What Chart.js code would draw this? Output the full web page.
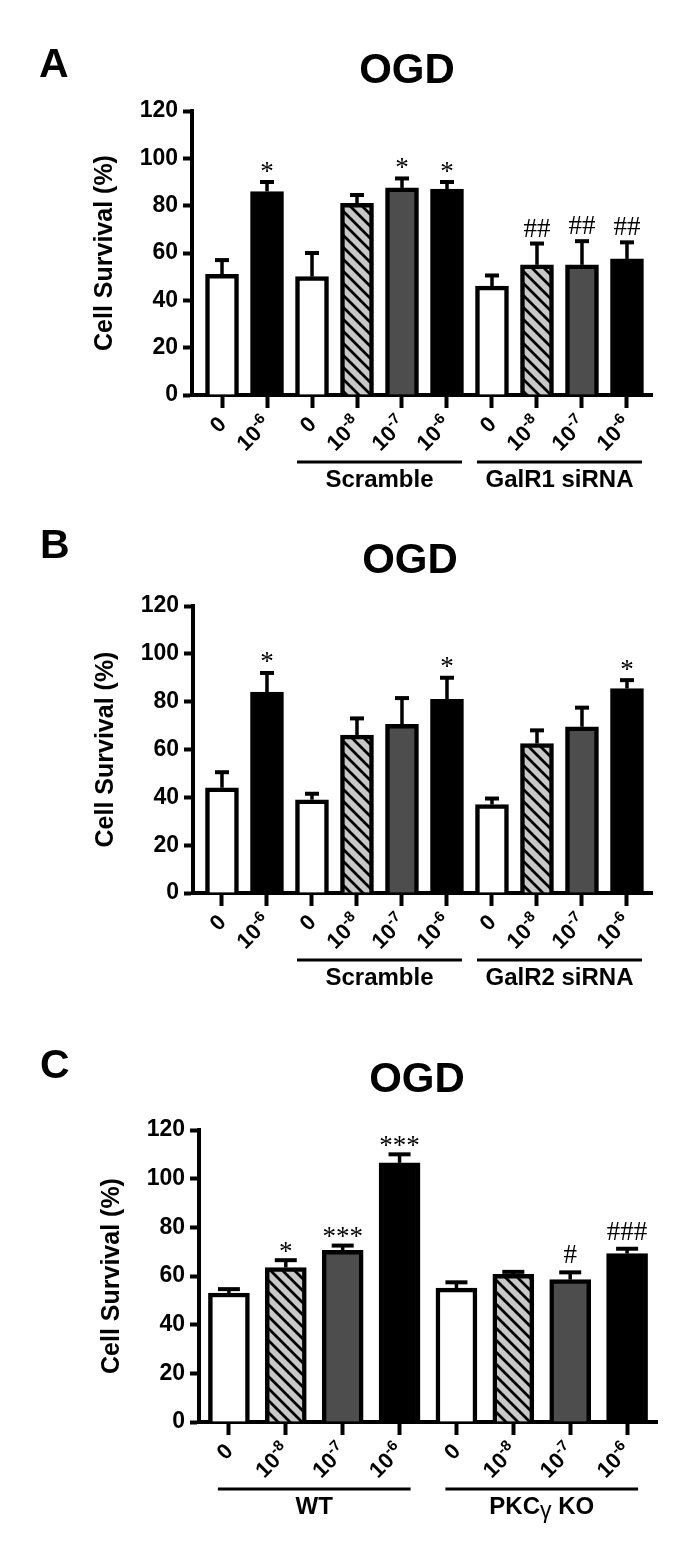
<!DOCTYPE html>
<html>
<head>
<meta charset="utf-8">
<script src="https://cdn.jsdelivr.net/npm/chart.js@4.4.1/dist/chart.umd.min.js"></script>
<style>
  html, body { margin: 0; padding: 0; background: #fff; }
  #wrap { position: relative; width: 681px; height: 1554px; }
  canvas { position: absolute; left: 0; }
</style>
</head>
<body>
<div id="wrap">
  <canvas id="panelA" width="681" height="518" style="top:0px"></canvas>
  <canvas id="panelB" width="681" height="518" style="top:518px"></canvas>
  <canvas id="panelC" width="681" height="518" style="top:1036px"></canvas>
</div>
<script>
// ---- data ----
const yTicks = [0, 20, 40, 60, 80, 100, 120];

// Panel A: GalR1 siRNA
const ticksA = ['0', '10^-6', '0', '10^-8', '10^-7', '10^-6', '0', '10^-8', '10^-7', '10^-6'];
const survivalA = [51, 86, 50, 81, 87.5, 87, 46, 55, 55, 57.5];
const semA = [6, 4, 10, 3.5, 4, 3, 4.5, 9, 10, 7];
const sigA = ['', '*', '', '', '*', '*', '', '##', '##', '##'];
const groupsA = [['Scramble', 2, 5], ['GalR1 siRNA', 6, 9]];

// Panel B: GalR2 siRNA
const ticksB = ['0', '10^-6', '0', '10^-8', '10^-7', '10^-6', '0', '10^-8', '10^-7', '10^-6'];
const survivalB = [44, 84, 39, 66, 70.5, 81, 37, 62.5, 69.5, 85.5];
const semB = [6.5, 8, 2.5, 7, 11, 9, 2.5, 5.5, 8, 3.5];
const sigB = ['', '*', '', '', '', '*', '', '', '', '*'];
const groupsB = [['Scramble', 2, 5], ['GalR2 siRNA', 6, 9]];

// Panel C: WT vs PKCgamma KO
const ticksC = ['0', '10^-8', '10^-7', '10^-6', '0', '10^-8', '10^-7', '10^-6'];
const survivalC = [53, 63.5, 70.5, 106.5, 55, 60.7, 58.5, 69.2];
const semC = [1.6, 3, 2, 3.5, 2.4, 1, 3, 2];
const sigC = ['', '*', '***', '***', '', '', '#', '###'];
const groupsC = [['WT', 0, 3], ['PKC\u03b3 KO', 4, 7]];

// bar fill kinds (style)
const fillsAB = ['white', 'black', 'white', 'hatch', 'dark', 'black', 'white', 'hatch', 'dark', 'black'];
const fillsC = ['white', 'hatch', 'dark', 'black', 'white', 'hatch', 'dark', 'black'];

const FONT = "'Liberation Sans', Arial, sans-serif";
const SERIF = "'Liberation Serif', 'Times New Roman', serif";

function makeHatch() {
  const t = document.createElement('canvas');
  t.width = t.height = 12;
  const g = t.getContext('2d');
  g.fillStyle = '#c8c8c8';
  g.fillRect(0, 0, 12, 12);
  g.strokeStyle = '#000';
  g.lineWidth = 2.8;
  g.beginPath();
  g.moveTo(-3, -3); g.lineTo(15, 15);
  g.moveTo(-3, 9); g.lineTo(3, 15);
  g.moveTo(9, -3); g.lineTo(15, 3);
  g.stroke();
  return document.createElement('canvas').getContext('2d').createPattern(t, 'repeat');
}
const HATCH = makeHatch();

function fillFor(kind) {
  if (kind === 'hatch') return HATCH;
  return { white: '#ffffff', black: '#000000', dark: '#4d4d4d' }[kind];
}

// rotated tick label with superscript exponent
function drawTickLabel(ctx, x, y, label) {
  const parts = label.split('^');
  ctx.save();
  ctx.translate(x, y);
  ctx.rotate(-Math.PI / 4);
  ctx.textBaseline = 'middle';
  ctx.textAlign = 'left';
  ctx.fillStyle = '#000';
  ctx.font = `bold 22px ${FONT}`;
  const wMain = ctx.measureText(parts[0]).width;
  let wSup = 0;
  if (parts[1]) {
    ctx.font = `bold 15px ${FONT}`;
    wSup = ctx.measureText(parts[1]).width;
  }
  ctx.font = `bold 22px ${FONT}`;
  ctx.fillText(parts[0], -(wMain + wSup), 0);
  if (parts[1]) {
    ctx.font = `bold 15px ${FONT}`;
    ctx.fillText(parts[1], -wSup, -7);
  }
  ctx.restore();
}

function drawGroupName(ctx, cx, y, name) {
  // gamma is drawn in a lighter face like the original
  const segs = name.split(/(\u03b3)/).filter(s => s);
  const fontOf = s => s === '\u03b3' ? `23px ${FONT}` : `bold 24px ${FONT}`;
  let total = 0;
  segs.forEach(s => { ctx.font = fontOf(s); total += ctx.measureText(s).width; });
  let x = cx - total / 2;
  ctx.textAlign = 'left';
  ctx.textBaseline = 'alphabetic';
  segs.forEach(s => {
    ctx.font = fontOf(s);
    ctx.fillText(s, x, y + (s === '\u03b3' ? 4 : 0));
    x += ctx.measureText(s).width;
  });
}

function makePanel(id, cfg) {
  const canvas = document.getElementById(id);
  const W = canvas.width, H = canvas.height;
  const a = cfg.area;

  const overlay = {
    id: 'overlay',
    afterDatasetsDraw(chart) {
      const ctx = chart.ctx;
      const ys = chart.scales.y;
      const bars = chart.getDatasetMeta(0).data;
      ctx.save();
      ctx.strokeStyle = '#000';
      ctx.fillStyle = '#000';
      cfg.values.forEach((v, i) => {
        const x = bars[i].x;
        const yTop = ys.getPixelForValue(v);
        const yErr = ys.getPixelForValue(v + cfg.err[i]);
        ctx.lineWidth = 3.5;
        ctx.beginPath();
        ctx.moveTo(x, yTop);
        ctx.lineTo(x, yErr);
        ctx.stroke();
        ctx.lineWidth = 4;
        ctx.beginPath();
        ctx.moveTo(x - cfg.cap / 2, yErr);
        ctx.lineTo(x + cfg.cap / 2, yErr);
        ctx.stroke();

        const s = cfg.sig[i];
        if (s) {
          ctx.font = `27px ${SERIF}`;
          ctx.textAlign = 'center';
          ctx.textBaseline = 'alphabetic';
          const m = ctx.measureText(s);
          const cy = yErr - (s.includes('#') ? cfg.hashGap : cfg.starGap);
          ctx.fillText(s, x, cy + (m.actualBoundingBoxAscent - m.actualBoundingBoxDescent) / 2);
        }
      });
      ctx.restore();
    },
    afterDraw(chart) {
      const ctx = chart.ctx;
      const xs = chart.scales.x;
      const area = chart.chartArea;
      ctx.save();
      ctx.fillStyle = '#000';

      // panel letter and title
      ctx.textBaseline = 'alphabetic';
      ctx.textAlign = 'left';
      ctx.font = `bold 41px ${FONT}`;
      ctx.fillText(cfg.letter, cfg.letterPos[0], cfg.letterPos[1]);
      ctx.textAlign = 'center';
      ctx.font = `bold 42px ${FONT}`;
      ctx.fillText('OGD', cfg.titlePos[0], cfg.titlePos[1]);

      // y axis title
      ctx.save();
      ctx.translate(area.left - 87, (area.top + area.bottom) / 2);
      ctx.rotate(-Math.PI / 2);
      ctx.textAlign = 'center';
      ctx.textBaseline = 'middle';
      ctx.font = `bold 25px ${FONT}`;
      ctx.fillText('Cell Survival (%)', 0, 0);
      ctx.restore();

      // rotated category labels
      cfg.ticks.forEach((t, i) => {
        drawTickLabel(ctx, xs.getPixelForValue(i) + 1, area.bottom + 26, t);
      });

      // group underlines and names
      ctx.lineWidth = 3;
      ctx.strokeStyle = '#000';
      cfg.groups.forEach(([name, from, to]) => {
        const x1 = xs.getPixelForValue(from) - cfg.groupPad;
        const x2 = xs.getPixelForValue(to) + cfg.groupPad;
        ctx.beginPath();
        ctx.moveTo(x1, area.bottom + 67);
        ctx.lineTo(x2, area.bottom + 67);
        ctx.stroke();
        drawGroupName(ctx, (x1 + x2) / 2, area.bottom + 92, name);
      });
      ctx.restore();
    }
  };

  return new Chart(canvas, {
    type: 'bar',
    data: {
      datasets: [{
        data: cfg.values.map((v, i) => ({ x: i, y: v })),
        backgroundColor: cfg.fills.map(fillFor),
        borderColor: '#000',
        borderWidth: 4.5,
        borderSkipped: 'start',
        barThickness: cfg.bar
      }]
    },
    options: {
      responsive: false,
      animation: false,
      devicePixelRatio: 1,
      layout: { padding: { left: 0, top: a.top, right: W - a.right, bottom: 0 } },
      plugins: { legend: { display: false }, tooltip: { enabled: false } },
      scales: {
        x: {
          type: 'linear',
          min: cfg.xMin,
          max: cfg.xMax,
          offset: false,
          z: 1,
          afterBuildTicks: s => { s.ticks = cfg.ticks.map((_, i) => ({ value: i })); },
          ticks: { callback: () => '', autoSkip: false, maxRotation: 0 },
          grid: { drawOnChartArea: false, offset: false, tickLength: 13, tickWidth: 4, tickColor: '#000' },
          border: { width: 4, color: '#000' },
          afterFit: s => { s.height = H - a.bottom; s.paddingLeft = 0; s.paddingRight = 0; }
        },
        y: {
          min: 0,
          max: 120,
          afterBuildTicks: s => { s.ticks = yTicks.map(v => ({ value: v })); },
          ticks: { color: '#000', padding: 5, font: { family: FONT, weight: 'bold', size: 23 } },
          grid: { drawOnChartArea: false, tickLength: 9, tickWidth: 4, tickColor: '#000' },
          border: { width: 4, color: '#000' },
          afterFit: s => { s.width = a.left; s.paddingTop = 0; s.paddingBottom = 0; }
        }
      }
    },
    plugins: [overlay]
  });
}

makePanel('panelA', {
  values: survivalA, err: semA, sig: sigA, ticks: ticksA, groups: groupsA, fills: fillsAB,
  area: { left: 192, right: 652, top: 111, bottom: 395 },
  xMin: -0.667, xMax: 9.556, bar: 33, cap: 14, groupPad: 15, starGap: 15, hashGap: 16,
  letter: 'A', letterPos: [39, 77], titlePos: [407, 83]
});

makePanel('panelB', {
  values: survivalB, err: semB, sig: sigB, ticks: ticksB, groups: groupsB, fills: fillsAB,
  area: { left: 193, right: 652, top: 88, bottom: 375 },
  xMin: -0.644, xMax: 9.556, bar: 33, cap: 14, groupPad: 15, starGap: 15, hashGap: 16,
  letter: 'B', letterPos: [40, 40], titlePos: [410, 55]
});

makePanel('panelC', {
  values: survivalC, err: semC, sig: sigC, ticks: ticksC, groups: groupsC, fills: fillsC,
  area: { left: 199, right: 657, top: 94, bottom: 386 },
  xMin: -0.526, xMax: 7.526, bar: 41, cap: 22, groupPad: 11, starGap: 13, hashGap: 18,
  letter: 'C', letterPos: [40, 42], titlePos: [417, 56]
});
</script>
</body>
</html>
